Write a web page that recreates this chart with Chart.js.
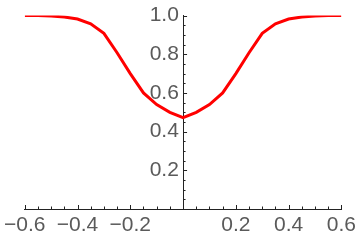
<!DOCTYPE html>
<html lang="en">
<head>
    <meta charset="UTF-8">
    <title>Curve</title>
    <script src="https://cdn.jsdelivr.net/npm/chart.js"></script>
    <style>
        html, body { margin: 0; padding: 0; background: #fff; }
        #wrap { width: 360px; height: 240px; }
    </style>
</head>
<body>
    <div id="wrap"><canvas id="grafico" width="360" height="240"></canvas></div>

    <script>
        // values
        const xValues = [-0.6, -0.55, -0.5, -0.45, -0.4, -0.35, -0.3, -0.25, -0.2, -0.15, -0.1, -0.05,
                          0, 0.05, 0.1, 0.15, 0.2, 0.25, 0.3, 0.35, 0.4, 0.45, 0.5, 0.55, 0.6];
        const yValues = [1.0, 1.0, 0.998, 0.993, 0.982, 0.958, 0.908, 0.808, 0.70, 0.60, 0.54, 0.50,
                         0.472, 0.50, 0.54, 0.60, 0.70, 0.808, 0.908, 0.958, 0.982, 0.993, 0.998, 1.0, 1.0];
        const xTickLabels = [-0.6, -0.4, -0.2, 0.2, 0.4, 0.6];
        const yTickLabels = [0.2, 0.4, 0.6, 0.8, 1.0];

        const points = xValues.map((x, i) => ({ x: x, y: yValues[i] }));

        function hasLabel(list, v) {
            return list.some(t => Math.abs(t - v) < 1e-6);
        }

        // Mathematica style ticks: pointing inward
        const inwardTicks = {
            id: 'inwardTicks',
            afterDraw(chart) {
                const ctx = chart.ctx;
                const xs = chart.scales.x;
                const ys = chart.scales.y;
                const x0 = xs.getPixelForValue(0);
                const yBase = ys.getPixelForValue(0);
                ctx.save();
                ctx.strokeStyle = '#222';
                ctx.lineWidth = 1;
                ctx.beginPath();
                xs.ticks.forEach(t => {
                    if (Math.abs(t.value) < 1e-6) return;
                    const len = hasLabel(xTickLabels, t.value) ? 4 : 2.5;
                    const px = Math.round(xs.getPixelForValue(t.value)) + 0.5;
                    ctx.moveTo(px, yBase);
                    ctx.lineTo(px, yBase - len);
                });
                ys.ticks.forEach(t => {
                    if (Math.abs(t.value) < 1e-6) return;
                    const len = hasLabel(yTickLabels, t.value) ? 4 : 2.5;
                    const py = Math.round(ys.getPixelForValue(t.value)) + 0.5;
                    ctx.moveTo(x0, py);
                    ctx.lineTo(x0 + len, py);
                });
                ctx.stroke();
                ctx.restore();
            }
        };

        const fonte = { family: "'Liberation Sans', Arial, sans-serif", size: 21 };

        new Chart(document.getElementById('grafico'), {
            type: 'line',
            data: {
                datasets: [{
                    data: points,
                    borderColor: '#ff0000',
                    borderWidth: 3,
                    pointRadius: 0,
                    tension: 0,
                    fill: false
                }]
            },
            options: {
                responsive: false,
                devicePixelRatio: 1,
                animation: false,
                layout: { padding: { left: 24, right: 17, top: 14, bottom: 0 } },
                plugins: {
                    legend: { display: false },
                    tooltip: { enabled: false }
                },
                scales: {
                    x: {
                        type: 'linear',
                        position: 'bottom',
                        min: -0.6,
                        max: 0.6,
                        afterFit(scale) { scale.height = 31; },
                        grid: { display: false, drawTicks: false },
                        border: { display: true, color: '#222', width: 1 },
                        ticks: {
                            stepSize: 0.05,
                            autoSkip: false,
                            maxRotation: 0,
                            padding: 4,
                            color: '#5a5a5a',
                            font: fonte,
                            callback: v => hasLabel(xTickLabels, v) ? (v < 0 ? '\u2212' : '') + Math.abs(v).toFixed(1) : ''
                        }
                    },
                    y: {
                        type: 'linear',
                        position: { x: 0 },
                        min: 0,
                        max: 1,
                        grid: { display: false, drawTicks: false },
                        border: { display: true, color: '#222', width: 1 },
                        ticks: {
                            stepSize: 0.05,
                            autoSkip: false,
                            color: '#5a5a5a',
                            font: fonte,
                            // thin space keeps the label off the axis line
                            callback: v => hasLabel(yTickLabels, v) ? v.toFixed(1) + '\u2009' : ''
                        }
                    }
                }
            },
            plugins: [inwardTicks]
        });
    </script>
</body>
</html>
